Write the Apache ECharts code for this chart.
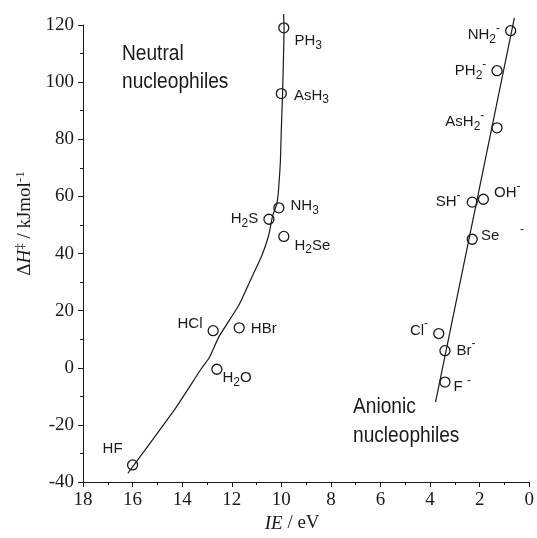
<!DOCTYPE html>
<html>
<head>
<meta charset="utf-8">
<script src="https://cdn.jsdelivr.net/npm/echarts@6/dist/echarts.min.js"></script>
<style>
  html, body { margin: 0; padding: 0; background: #fff; }
  #chart { width: 537px; height: 538px; }
</style>
</head>
<body>
<div id="chart"></div>
<script>
  // neutral nucleophiles (IE in eV, dH in kJ/mol)
  const neutralNames = ['PH3', 'AsH3', 'NH3', 'H2S', 'H2Se', 'HCl', 'HBr', 'H2O', 'HF'];
  const neutralIE = [9.9, 10.0, 10.1, 10.5, 9.9, 12.75, 11.7, 12.6, 16.0];
  const neutralDH = [119, 96, 56, 52, 46, 13, 14, -0.5, -34];

  // anionic nucleophiles
  const anionNames = ['NH2-', 'PH2-', 'AsH2-', 'SH-', 'OH-', 'Se-', 'Cl-', 'Br-', 'F-'];
  const anionIE = [0.75, 1.3, 1.3, 2.3, 1.85, 2.3, 3.65, 3.4, 3.4];
  const anionDH = [118, 104, 84, 58, 59, 45, 12, 6, -5];

  // hand drawn trend curve through the neutral ones
  const curveIE = [9.91, 9.89, 9.95, 10.0, 10.04, 10.11, 10.18, 10.35, 10.51, 10.78, 11.18, 11.71, 12.51, 12.91, 13.25, 14.25, 16.19];
  const curveDH = [123.8, 119.3, 96, 83.5, 71.9, 62.6, 57.4, 53.3, 46.4, 39.4, 31.9, 22.0, 11.0, 3.5, -0.6, -13.9, -36.9];

  // straight fit through the anions
  const fitIE = [3.78, 0.6];
  const fitDH = [-12, 122.5];

  const xTicks = [0, 2, 4, 6, 8, 10, 12, 14, 16, 18];
  const yTicks = [-40, -20, 0, 20, 40, 60, 80, 100, 120];

  // label placement: [position, dx, dy]
  const labelPlace = {
    'PH3': ['right', 0, 13], 'AsH3': ['right', 2, 2], 'NH3': ['right', 1, -2],
    'H2S': ['left', 0, 0], 'H2Se': ['right', 0, 9], 'HCl': ['left', 0, -7],
    'HBr': ['right', 1, 1], 'H2O': ['right', -5, 9], 'HF': ['top', -20, 2],
    'NH2-': ['left', 0, 4], 'PH2-': ['left', 0, 0], 'AsH2-': ['left', -2, -6],
    'SH-': ['left', -1, 0], 'OH-': ['right', 0, -6], 'Se-': ['right', -2, -3],
    'Cl-': ['left', 0, -3], 'Br-': ['right', 1, 0], 'F-': ['right', -2, 5]
  };

  const ink = '#1a1a1a';

  function fmt(name) {
    if (name === 'Se-') return 'Se     {sup|-}';
    if (name === 'F-') return 'F {sup|-}';
    return name.replace(/(\d)/g, '{sub|$1}').replace(/-$/, '{sup|-}');
  }

  const richSans = {
    sub: { fontSize: 12, fontFamily: 'Liberation Sans', color: ink, padding: [9, 0, 0, 0] },
    sup: { fontSize: 12, fontFamily: 'Liberation Sans', color: ink, padding: [0, 0, 13, 0] }
  };

  function points(names, xs, ys) {
    return names.map((n, i) => {
      const p = labelPlace[n];
      return {
        name: n,
        value: [xs[i], ys[i]],
        label: { position: p[0], offset: [p[1], p[2]] }
      };
    });
  }

  const chart = echarts.init(document.getElementById('chart'));

  const option = {
    backgroundColor: '#fff',
    animation: false,
    grid: { left: 83, right: 5, top: 25, bottom: 53 },
    xAxis: {
      type: 'value',
      inverse: true,
      min: xTicks[0],
      max: xTicks[xTicks.length - 1],
      interval: 2,
      name: '{i|IE} / eV',
      nameLocation: 'middle',
      nameGap: 31,
      nameTextStyle: {
        fontFamily: 'Liberation Serif', fontSize: 19, color: ink,
        padding: [0, 28, 0, 0],
        rich: { i: { fontFamily: 'Liberation Serif', fontStyle: 'italic', fontSize: 19, color: ink } }
      },
      axisLine: { show: true, onZero: false, lineStyle: { color: ink, width: 1 } },
      axisTick: { show: true, inside: false, length: 5, lineStyle: { color: ink } },
      minorTick: { show: true, splitNumber: 2, length: 3, lineStyle: { color: ink } },
      axisLabel: { fontFamily: 'Liberation Serif', fontSize: 19, color: ink, margin: 8 },
      splitLine: { show: false }
    },
    yAxis: {
      type: 'value',
      min: yTicks[0],
      max: yTicks[yTicks.length - 1],
      interval: 20,
      name: 'Δ{i|H}{sup|‡} / kJmol{sup|-1}',
      nameLocation: 'middle',
      nameGap: 42,
      nameRotate: 90,
      nameTextStyle: {
        fontFamily: 'Liberation Serif', fontSize: 19, color: ink,
        padding: [0, 0, 0, 60],
        rich: {
          i: { fontFamily: 'Liberation Serif', fontStyle: 'italic', fontSize: 19, color: ink },
          sup: { fontFamily: 'Liberation Serif', fontSize: 13, color: ink, padding: [0, 0, 10, 0] }
        }
      },
      axisLine: { show: true, onZero: false, lineStyle: { color: ink, width: 1 } },
      axisTick: { show: true, inside: false, length: 5, lineStyle: { color: ink } },
      minorTick: { show: true, splitNumber: 2, length: 3, lineStyle: { color: ink } },
      axisLabel: { fontFamily: 'Liberation Serif', fontSize: 19, color: ink, margin: 9 },
      splitLine: { show: false }
    },
    graphic: [
      {
        type: 'text', x: 122, y: 40, scaleX: 0.87,
        style: { text: 'Neutral\nnucleophiles', font: '22px "Liberation Sans"', lineHeight: 28, fill: ink }
      },
      {
        type: 'text', x: 353, y: 392, scaleX: 0.87,
        style: { text: 'Anionic\nnucleophiles', font: '22px "Liberation Sans"', lineHeight: 29, fill: ink }
      }
    ],
    series: [
      {
        type: 'line',
        data: curveIE.map((x, i) => [x, curveDH[i]]),
        smooth: 0.15,
        showSymbol: false,
        clip: false,
        lineStyle: { color: ink, width: 1.2 },
        silent: true
      },
      {
        type: 'line',
        data: fitIE.map((x, i) => [x, fitDH[i]]),
        showSymbol: false,
        clip: false,
        lineStyle: { color: ink, width: 1.2 },
        silent: true
      },
      {
        type: 'scatter',
        data: points(neutralNames, neutralIE, neutralDH).concat(points(anionNames, anionIE, anionDH)),
        symbol: 'circle',
        symbolSize: 10,
        clip: false,
        itemStyle: { color: 'rgba(0,0,0,0)', borderColor: ink, borderWidth: 1.3, opacity: 1 },
        label: {
          show: true,
          distance: 5,
          fontFamily: 'Liberation Sans',
          fontSize: 15,
          color: ink,
          formatter: p => fmt(p.name),
          rich: richSans
        }
      }
    ]
  };

  chart.setOption(option);
  window.addEventListener('resize', () => chart.resize());
</script>
</body>
</html>
